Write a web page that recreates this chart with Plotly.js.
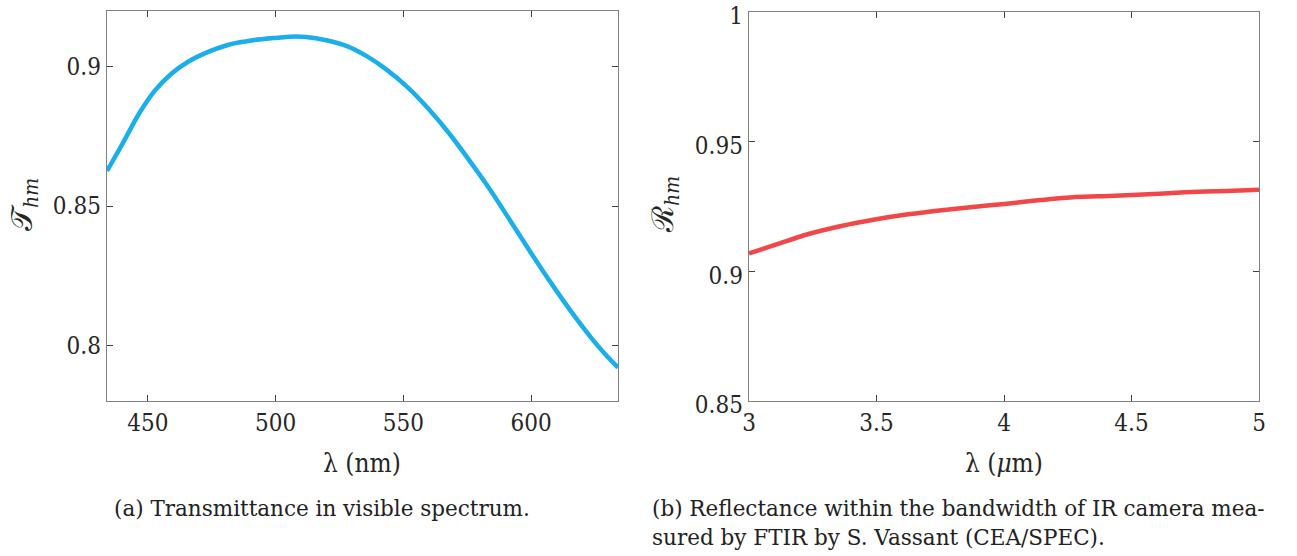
<!DOCTYPE html>
<html>
<head>
<meta charset="utf-8">
<script src="https://cdn.plot.ly/plotly-3.0.1.min.js"></script>
<style>html,body{margin:0;padding:0;background:#fff;}#chart{width:1297px;height:556px;}</style>
</head>
<body>
<div id="chart"></div>
<script>
// Transmittance in visible spectrum
const visWavelength = [434, 440.1, 446.5, 452.8, 459.2, 465.6, 472.0, 481.6, 491.1, 500.7, 505.5, 511.9, 519.9, 527.9, 535.8, 543.8, 551.8, 559.8, 567.8, 575.8, 583.7, 591.7, 599.7, 607.7, 615.7, 623.6, 629, 634];
const transmittance = [0.8626, 0.8724, 0.8831, 0.8915, 0.8975, 0.9017, 0.9047, 0.9079, 0.9095, 0.9104, 0.9108, 0.9107, 0.9095, 0.9074, 0.9037, 0.8987, 0.8925, 0.8849, 0.8762, 0.8664, 0.8562, 0.8449, 0.8335, 0.8225, 0.8121, 0.8026, 0.7968, 0.7920];
// Reflectance in IR band
const irWavelength = [3.0, 3.099, 3.230, 3.362, 3.493, 3.624, 3.756, 3.887, 4.002, 4.133, 4.281, 4.413, 4.545, 4.709, 4.873, 5.0];
const reflectance = [0.9069, 0.9101, 0.9143, 0.9175, 0.9200, 0.9220, 0.9236, 0.9249, 0.9260, 0.9274, 0.9287, 0.9291, 0.9296, 0.9305, 0.9310, 0.9315];

const xTicksA = [450, 500, 550, 600];
const yTicksA = [0.8, 0.85, 0.9];
const yTickLabelsA = ['0.8', '0.85', '0.9'];
const xTicksB = [3, 3.5, 4, 4.5, 5];
const xTickLabelsB = ['3', '3.5', '4', '4.5', '5'];
const yTicksB = [0.85, 0.9, 0.95, 1];
const yTickLabelsB = ['0.85', '0.9', '0.95', '1'];

const serif = '"DejaVu Serif Condensed", "DejaVu Serif", serif';
const capSerif = '"DejaVu Serif", serif';
const tickFont = {family: serif, size: 24, color: '#262626'};
const axisCommon = {
  showline: true, linecolor: '#808080', linewidth: 1.3, mirror: 'ticks',
  ticks: 'inside', ticklen: 6, tickcolor: '#404040', tickwidth: 1,
  showgrid: false, zeroline: false, tickfont: tickFont, fixedrange: true,
  ticklabeloverflow: 'allow'
};

const traces = [
  {x: visWavelength, y: transmittance, type: 'scatter', mode: 'lines',
   line: {color: '#1aaeea', width: 4.5, shape: 'spline', smoothing: 0.7}, xaxis: 'x', yaxis: 'y', hoverinfo: 'skip'},
  {x: irWavelength, y: reflectance, type: 'scatter', mode: 'lines',
   line: {color: '#f04848', width: 4.5, shape: 'spline', smoothing: 0.7}, xaxis: 'x2', yaxis: 'y2', hoverinfo: 'skip'}
];

const layout = {
  width: 1297, height: 556,
  margin: {l: 0, r: 0, t: 0, b: 0},
  paper_bgcolor: '#fff', plot_bgcolor: '#fff',
  showlegend: false,
  font: {family: serif},
  xaxis: Object.assign({}, axisCommon, {domain: [107/1297, 618/1297], range: [434, 634],
    tickvals: xTicksA, ticktext: xTicksA.map(String), anchor: 'y'}),
  yaxis: Object.assign({}, axisCommon, {domain: [1 - 401/556, 1 - 11/556], range: [0.78, 0.92],
    tickvals: yTicksA, ticktext: yTickLabelsA, anchor: 'x'}),
  xaxis2: Object.assign({}, axisCommon, {domain: [749/1297, 1259/1297], range: [3, 5],
    tickvals: xTicksB, ticktext: xTickLabelsB, anchor: 'y2'}),
  yaxis2: Object.assign({}, axisCommon, {domain: [1 - 401/556, 1 - 12/556], range: [0.85, 1.00001],
    tickvals: yTicksB, ticktext: yTickLabelsB, anchor: 'x2', ticklabelshift: 4}),
  annotations: [
    {text: 'λ (nm)', x: 362/1297, y: 1 - 463/556, xref: 'paper', yref: 'paper',
     showarrow: false, font: {family: serif, size: 26, color: '#262626'}, xanchor: 'center', yanchor: 'middle'},
    {text: 'λ (<i>μ</i>m)', x: 1004/1297, y: 1 - 463/556, xref: 'paper', yref: 'paper',
     showarrow: false, font: {family: serif, size: 26, color: '#262626'}, xanchor: 'center', yanchor: 'middle'},
    {text: '𝒯<sub><i>hm</i></sub>', x: 24/1297, y: 1 - 205/556, xref: 'paper', yref: 'paper', textangle: -90,
     showarrow: false, font: {family: serif, size: 30, color: '#262626'}, xanchor: 'center', yanchor: 'middle'},
    {text: 'ℛ<sub><i>hm</i></sub>', x: 665/1297, y: 1 - 205/556, xref: 'paper', yref: 'paper', textangle: -90,
     showarrow: false, font: {family: serif, size: 30, color: '#262626'}, xanchor: 'center', yanchor: 'middle'},
    {text: '(a) Transmittance in visible spectrum.', x: 322/1297, y: 1 - 508/556, xref: 'paper', yref: 'paper',
     showarrow: false, font: {family: capSerif, size: 21.5, color: '#222'}, xanchor: 'center', yanchor: 'middle'},
    {text: '(b) Reflectance within the bandwidth of IR camera mea-', x: 650/1297, y: 1 - 508/556, xref: 'paper', yref: 'paper',
     showarrow: false, font: {family: capSerif, size: 21.5, color: '#222'}, xanchor: 'left', yanchor: 'middle'},
    {text: 'sured by FTIR by S. Vassant (CEA/SPEC).', x: 650/1297, y: 1 - 537/556, xref: 'paper', yref: 'paper',
     showarrow: false, font: {family: capSerif, size: 21.5, color: '#222'}, xanchor: 'left', yanchor: 'middle'}
  ]
};

Plotly.newPlot('chart', traces, layout, {staticPlot: true, displayModeBar: false});
</script>
</body>
</html>
